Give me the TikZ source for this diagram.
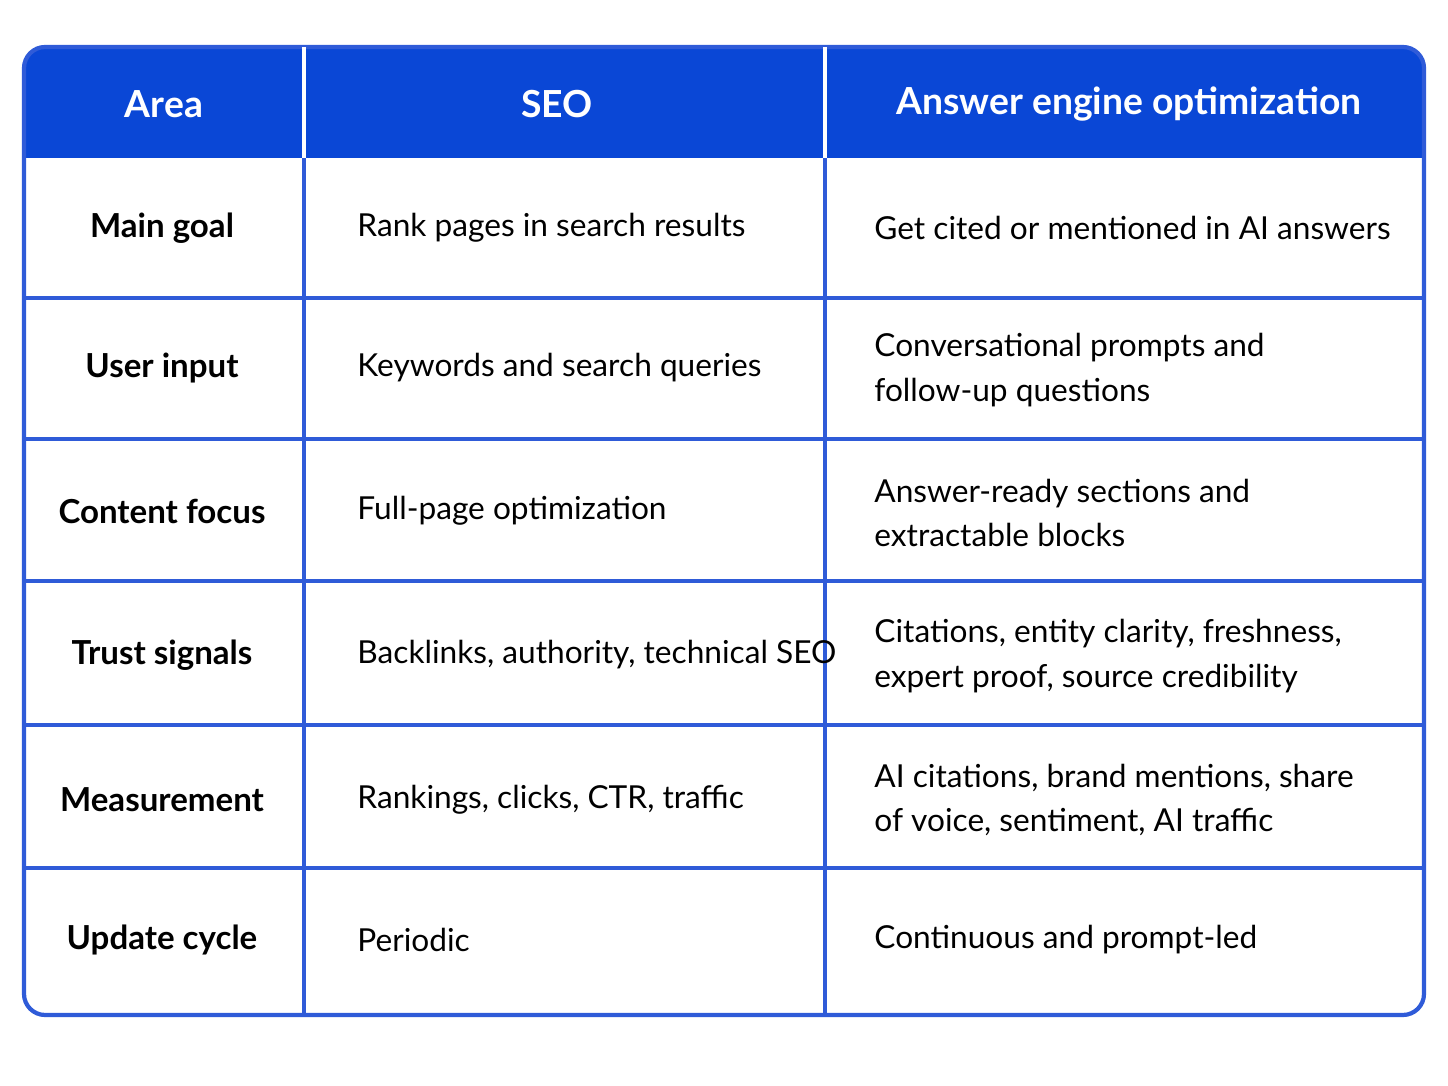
\documentclass[tikz,border=0pt]{standalone}
\usepackage{fontspec}
\setmainfont{Lato}
\definecolor{hdrblue}{HTML}{0A47D6}
\definecolor{lineblue}{HTML}{2F5BD8}

\begin{document}
\begin{tikzpicture}
[x=0.01cm,y=-0.01cm, hdr/.style={text=white,font=\fontsize{10.6}{13}\selectfont\bfseries},
area/.style={font=\fontsize{9.4}{12}\selectfont\bfseries},
cell/.style={anchor=west,align=left,font=\fontsize{9}{12.7}\selectfont}]

% the page
\useasboundingbox (0,0) rectangle (1448,1086);

% the header band and outer frame
\fill[hdrblue,rounded corners=6] (24,47) rectangle (1424,158);
\fill[hdrblue] (24,120) rectangle (1424,158);
\draw[lineblue,line width=1.2pt,rounded corners=6] (24,47) rectangle (1424,1015);

% the rules
\foreach \y in {298,439,581,725,868}
  \draw[lineblue,line width=1pt] (24,\y) -- (1424,\y);
\draw[lineblue,line width=1pt] (304,158) -- (304,1015);
\draw[lineblue,line width=1pt] (825,158) -- (825,1015);
\draw[white,line width=1pt] (304,47) -- (304,158);
\draw[white,line width=1pt] (825,47) -- (825,158);

% the header
\node[hdr] (harea) at (164,104) {Area};
\node[hdr] (hseo) at (557,104) {SEO};
\node[hdr] (haeo) at (1129,104) {Answer engine optimization};

% the rows
\node[area] (a1) at (162,228) {Main goal};
\node[cell] (s1) at (345,228) {Rank pages in search results};
\node[cell] (e1) at (862,228) {Get cited or mentioned in AI answers};

\node[area] (a2) at (162,368) {User input};
\node[cell] (s2) at (345,368) {Keywords and search queries};
\node[cell] (e2) at (862,370) {Conversational prompts and\\follow-up questions};

\node[area] (a3) at (162,511) {Content focus};
\node[cell] (s3) at (345,511) {Full-page optimization};
\node[cell] (e3) at (862,513) {Answer-ready sections and\\extractable blocks};

\node[area] (a4) at (162,655) {Trust signals};
\node[cell] (s4) at (345,655) {Backlinks, authority, technical SEO};
\node[cell] (e4) at (862,656) {Citations, entity clarity, freshness,\\expert proof, source credibility};

\node[area] (a5) at (162,800) {Measurement};
\node[cell] (s5) at (345,800) {Rankings, clicks, CTR, traffic};
\node[cell] (e5) at (862,800) {AI citations, brand mentions, share\\of voice, sentiment, AI traffic};

\node[area] (a6) at (162,940) {Update cycle};
\node[cell] (s6) at (345,940) {Periodic};
\node[cell] (e6) at (862,940) {Continuous and prompt-led};

%
\end{tikzpicture}
\end{document}
